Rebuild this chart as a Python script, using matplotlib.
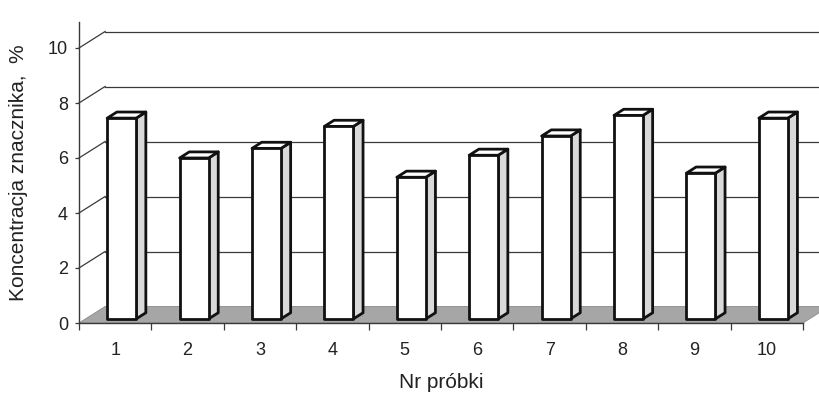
import matplotlib
matplotlib.use("Agg")
import matplotlib.pyplot as plt
from matplotlib.patches import Polygon

plt.rcParams["font.family"] = ["Liberation Sans", "DejaVu Sans"]

samples = ["1", "2", "3", "4", "5", "6", "7", "8", "9", "10"]
concentration = [7.3, 5.85, 6.2, 7.0, 5.15, 5.95, 6.65, 7.4, 5.3, 7.3]
y_ticks = [0, 2, 4, 6, 8, 10]

# pseudo-3D depth offset (in data units) for back wall / floor
DX, DY = 0.36, 0.6
BAR_W = 0.4       # front face width, category units
BAR_D0 = 0.25     # bar front at this fraction of depth
BAR_D = 0.37      # bar depth as fraction of full depth
LINE = "#3a3a3a"

fig = plt.figure(figsize=(8.2, 3.98), dpi=100)
ax = fig.add_axes([79 / 820, 75 / 398, 724 / 820, 301 / 398])
ax.set_xlim(0, len(samples))
ax.set_ylim(0, 301 / 27.5)
ax.patch.set_visible(False)

for s in ("top", "right"):
    ax.spines[s].set_visible(False)
for s in ("left", "bottom"):
    ax.spines[s].set_color(LINE)
    ax.spines[s].set_linewidth(1.0)

# floor
n = len(samples)
floor = Polygon([(0, 0), (n, 0), (n + DX, DY), (DX, DY)], closed=True,
                facecolor="#a6a6a6", edgecolor="#8a8a8a", lw=0.6,
                clip_on=False, zorder=1)
ax.add_patch(floor)

# back wall gridlines + left wall diagonals
for v in y_ticks[1:]:
    ax.plot([0, DX], [v, v + DY], color=LINE, lw=0.9, clip_on=False, zorder=1)
    ax.plot([DX, n + 0.5], [v + DY, v + DY], color=LINE, lw=0.9,
            clip_on=False, zorder=1)

# bars
for i, v in enumerate(concentration):
    c = i + 0.5
    ox, oy = BAR_D0 * DX, BAR_D0 * DY
    bx, by = BAR_D * DX, BAR_D * DY
    xl, xr = c - BAR_W / 2 + ox, c + BAR_W / 2 + ox
    y0, y1 = oy, oy + v
    side = Polygon([(xr, y0), (xr + bx, y0 + by), (xr + bx, y1 + by), (xr, y1)],
                   closed=True, facecolor="#d9d9d9", edgecolor="#111111",
                   lw=2.0, joinstyle="round", zorder=3, clip_on=False)
    top = Polygon([(xl, y1), (xr, y1), (xr + bx, y1 + by), (xl + bx, y1 + by)],
                  closed=True, facecolor="white", edgecolor="#111111",
                  lw=2.0, joinstyle="round", zorder=3, clip_on=False)
    front = Polygon([(xl, y0), (xr, y0), (xr, y1), (xl, y1)], closed=True,
                    facecolor="white", edgecolor="#111111", lw=2.0,
                    joinstyle="round", zorder=4, clip_on=False)
    ax.add_patch(side)
    ax.add_patch(top)
    ax.add_patch(front)

ax.set_yticks(y_ticks)
ax.tick_params(axis="y", direction="out", length=3, width=0.9, color=LINE,
               labelsize=13, pad=5, labelcolor="#222222")
ax.set_xticks([i + 0.5 for i in range(n)])
ax.set_xticklabels(samples)
ax.set_xticks(range(n + 1), minor=True)
ax.tick_params(axis="x", which="major", length=0, labelsize=13, pad=14,
               labelcolor="#222222")
ax.tick_params(axis="x", which="minor", direction="out", length=5, width=0.9,
               color=LINE)

ax.set_ylabel("Koncentracja znacznika,  %", fontsize=15, color="#222222",
              labelpad=14)
ax.set_xlabel("Nr próbki", fontsize=15, color="#222222", labelpad=10)

fig.savefig("out.png", dpi=100)
